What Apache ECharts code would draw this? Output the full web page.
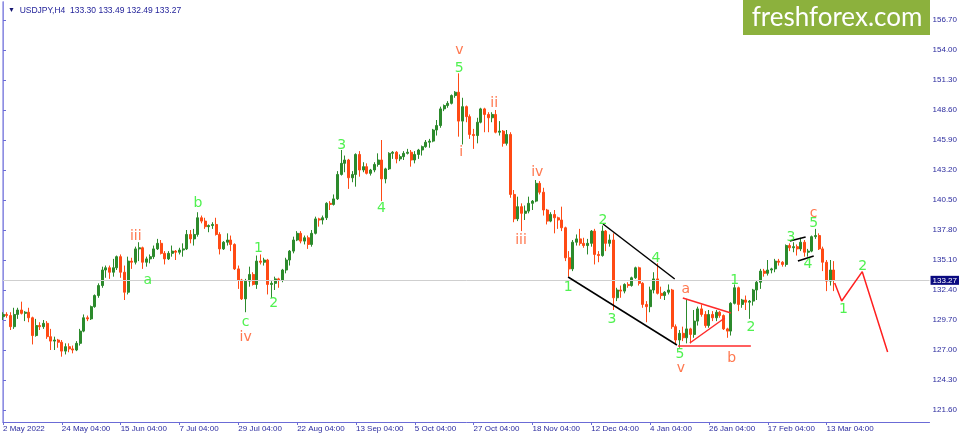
<!DOCTYPE html>
<html><head><meta charset="utf-8">
<script src="https://cdn.jsdelivr.net/npm/echarts@6/dist/echarts.min.js"></script>
<style>html,body{margin:0;padding:0;background:#fff}#c{width:960px;height:434px}</style>
</head><body><div id="c"></div>
<script>
// ---- data ----
const symbolName = 'USDJPY,H4';
const lastBar = [133.30, 133.49, 132.49, 133.27];
const tickLabels = ['2 May 2022','24 May 04:00','15 Jun 04:00','7 Jul 04:00','29 Jul 04:00','22 Aug 04:00','13 Sep 04:00','5 Oct 04:00','27 Oct 04:00','18 Nov 04:00','12 Dec 04:00','4 Jan 04:00','26 Jan 04:00','17 Feb 04:00','13 Mar 04:00'];
const tickEvery = 16;
const slotCount = 253;
const priceTicks = [121.6,124.3,127.0,129.7,132.4,135.1,137.8,140.5,143.2,145.9,148.6,151.3,154.0,156.7];
const priceMin = 120.52, priceMax = 158.32;

const opens = [
130.0,130.2,130.1,129.1,130.2,130.6,130.3,130.4,129.9,128.3,
129.2,129.1,129.4,128.2,127.8,127.9,127.7,126.9,127.3,127.1,
127.0,127.6,128.7,129.9,129.8,130.9,131.9,132.8,134.2,134.4,
134.0,134.4,135.4,134.0,132.2,135.0,134.9,136.1,136.2,134.9,
135.2,135.4,136.1,136.6,135.7,135.2,135.7,135.9,135.8,136.0,
136.1,137.4,137.0,137.4,138.9,138.6,138.1,138.2,138.3,137.4,
136.1,136.7,136.9,136.5,134.3,133.3,131.6,133.2,133.8,132.9,
135.0,134.9,135.1,132.9,133.0,133.4,133.3,134.2,135.1,135.9,
136.9,137.5,136.8,137.1,136.5,137.5,138.8,138.7,138.9,140.2,
140.1,140.6,142.8,143.8,144.1,142.5,142.8,144.6,143.2,143.5,
142.9,143.2,143.7,144.1,142.4,143.3,144.7,144.8,144.2,144.4,
144.7,144.8,144.1,144.6,145.0,145.3,145.7,145.8,146.8,147.2,
148.7,149.0,149.2,149.9,150.2,147.6,148.9,148.0,146.4,146.3,
147.5,148.7,148.2,147.9,148.2,146.6,146.7,145.6,146.4,141.0,
138.8,139.9,139.3,139.5,140.2,140.4,142.0,141.2,139.6,138.6,
139.2,138.9,138.7,138.0,135.3,134.3,136.7,137.0,136.6,136.4,
136.6,137.7,135.6,135.5,137.7,136.6,136.9,131.7,132.4,132.3,
132.9,132.8,133.5,134.4,133.0,131.1,130.9,132.4,133.4,132.1,
131.9,132.2,132.4,129.1,127.9,128.5,128.1,128.9,128.4,129.6,
130.7,130.2,129.2,130.2,129.9,130.4,130.1,128.9,128.7,131.2,
132.6,131.1,131.5,131.3,131.4,132.4,133.1,134.1,133.9,134.2,
134.3,135.0,134.9,134.7,136.4,136.2,136.3,136.1,136.7,135.8,
135.9,137.2,137.3,136.1,134.9,133.2,134.2];
const closes = [
130.2,130.1,129.1,130.2,130.6,130.3,130.4,129.9,128.3,129.2,
129.1,129.4,128.2,127.8,127.9,127.7,126.9,127.3,127.1,127.0,
127.6,128.7,129.9,129.8,130.9,131.9,132.8,134.2,134.4,134.0,
134.4,135.4,134.0,132.2,135.0,134.9,136.1,136.2,134.9,135.2,
135.4,136.1,136.6,135.7,135.2,135.7,135.9,135.8,136.0,136.1,
137.4,137.0,137.4,138.9,138.6,138.1,138.2,138.3,137.4,136.1,
136.7,136.9,136.5,134.3,133.3,131.6,133.2,133.8,132.9,135.0,
134.9,135.1,132.9,133.0,133.4,133.3,134.2,135.1,135.9,136.9,
137.5,136.8,137.1,136.5,137.5,138.8,138.7,138.9,140.2,140.1,
140.6,142.8,143.8,144.1,142.5,142.8,144.6,143.2,143.5,142.9,
143.2,143.7,144.1,142.4,143.3,144.7,144.8,144.2,144.4,144.7,
144.8,144.1,144.6,145.0,145.3,145.7,145.8,146.8,147.2,148.7,
149.0,149.2,149.9,150.2,147.6,148.9,148.0,146.4,146.3,147.5,
148.7,148.2,147.9,148.2,146.6,146.7,145.6,146.4,141.0,138.8,
139.9,139.3,139.5,140.2,140.4,142.0,141.2,139.6,138.6,139.2,
138.9,138.7,138.0,135.3,134.3,136.7,137.0,136.6,136.4,136.6,
137.7,135.6,135.5,137.7,136.6,136.9,131.7,132.4,132.3,132.9,
132.8,133.5,134.4,133.0,131.1,130.9,132.4,133.4,132.1,131.9,
132.2,132.4,129.1,127.9,128.5,128.1,128.9,128.4,129.6,130.7,
130.2,129.2,130.2,129.9,130.4,130.1,128.9,128.7,131.2,132.6,
131.1,131.5,131.3,131.4,132.4,133.1,134.1,133.9,134.2,134.3,
135.0,134.9,134.7,136.4,136.2,136.3,136.1,136.7,135.8,135.9,
137.2,137.3,136.1,134.9,133.2,134.2,133.27];
const highs = [
130.4,130.4,130.4,130.8,130.8,131.35,130.5,130.8,130.0,129.8,
129.5,129.7,129.6,128.9,128.2,128.0,127.9,127.6,127.6,127.4,
127.8,128.9,130.2,130.1,131.0,132.0,133.0,134.5,134.6,134.6,
135.2,135.5,135.6,134.6,135.4,135.3,136.3,136.7,136.3,135.4,
135.6,136.4,137.0,136.9,135.9,135.9,136.4,136.0,136.2,136.6,
137.8,137.8,137.9,139.4,139.1,138.9,138.3,138.5,138.9,137.6,
136.8,137.5,137.3,136.6,134.6,133.4,133.4,134.5,134.0,135.5,
135.6,135.3,135.2,133.2,133.6,133.5,134.3,135.3,136.0,137.2,
137.7,137.7,137.3,137.3,137.8,139.0,138.9,139.1,140.3,140.4,
141.0,143.1,145.0,144.5,144.2,143.1,144.7,144.9,143.9,143.8,
143.3,143.9,144.7,145.9,143.4,144.8,144.9,144.9,144.6,144.9,
145.1,145.0,144.9,145.1,145.4,145.9,146.0,146.9,147.7,148.9,
149.1,149.4,150.0,150.3,151.9,149.7,149.0,148.2,146.9,147.9,
148.8,148.8,148.4,148.4,148.6,147.6,146.8,146.8,146.6,141.4,
140.8,140.2,140.0,140.8,140.5,142.3,142.2,141.6,139.7,139.4,
139.6,139.0,139.9,138.1,135.9,136.9,137.4,137.9,137.1,137.0,
137.8,137.9,135.9,138.2,137.8,137.4,137.5,132.6,132.8,133.0,
133.1,133.6,134.5,134.5,133.1,131.4,132.7,134.0,134.8,132.7,
132.3,132.9,132.5,129.3,128.8,129.1,131.6,129.0,130.6,130.9,
131.1,130.5,130.6,130.5,130.6,130.5,130.2,129.0,131.3,132.9,
132.7,131.6,131.9,131.5,132.5,133.3,134.3,134.3,135.1,134.4,
135.2,135.2,135.0,136.5,136.6,136.7,136.5,137.1,136.9,136.1,
137.3,137.9,137.5,136.3,135.1,135.1,135.0];
const lows = [
129.7,129.9,128.8,128.9,129.8,130.2,129.6,129.5,127.5,128.2,
128.8,128.9,128.0,127.0,127.0,127.2,126.4,126.6,126.8,126.7,
126.9,127.4,128.6,129.6,129.7,130.8,131.7,132.6,133.5,133.4,
133.6,134.2,133.5,131.5,132.0,134.3,134.7,135.0,134.3,134.5,
134.8,135.2,136.0,135.6,134.7,135.1,135.4,135.1,135.6,135.4,
136.0,136.6,136.4,137.2,138.4,137.9,137.6,137.9,137.3,135.6,
136.0,136.4,135.9,134.2,132.5,131.5,130.4,132.7,132.8,132.5,
134.7,134.6,132.0,131.7,132.4,132.6,133.1,133.9,134.6,135.7,
136.8,136.6,136.5,136.1,136.3,137.4,138.1,138.3,138.7,139.6,
140.0,140.5,142.7,143.0,141.5,142.1,141.7,142.6,143.0,142.8,
142.7,143.0,143.5,140.4,142.0,143.2,144.2,143.8,144.0,144.1,
144.6,143.5,143.8,144.2,144.5,145.2,145.2,145.7,146.3,147.0,
148.5,148.8,149.1,149.7,146.2,145.5,147.5,146.0,145.1,145.6,
147.4,146.6,146.6,147.5,146.5,146.3,145.3,145.4,140.7,138.5,
138.6,137.7,138.7,139.3,139.6,140.3,141.0,139.1,138.3,138.5,
137.5,137.9,137.7,135.0,133.6,134.1,136.4,136.4,136.2,135.6,
136.3,134.7,134.9,135.4,135.9,136.3,130.6,131.4,131.7,132.1,
132.6,132.7,133.4,132.8,130.8,129.5,130.4,132.1,132.0,131.6,
131.5,132.0,128.9,127.5,127.2,127.8,127.6,127.6,128.1,129.2,
130.0,129.0,129.0,129.6,129.6,129.9,128.8,128.1,128.3,131.1,
130.5,130.8,130.6,129.8,131.0,131.5,132.5,133.6,133.7,133.9,
134.0,134.6,134.5,134.5,135.9,135.8,135.5,135.9,135.4,135.4,
135.8,137.0,136.0,134.1,132.3,132.8,132.3];

// wave labels: [bar index, price, text, kind]  kind g = green, r = orange-red
const waveLabels = [
[36.1,137.26,'iii','r'],[39.4,133.30,'a','g'],[53.0,140.23,'b','g'],
[69.5,136.18,'1','g'],[73.6,131.23,'2','g'],[66.0,129.52,'c','g'],[66.0,128.17,'iv','r'],
[92.1,145.45,'3','g'],[102.9,139.78,'4','g'],
[124.1,154.00,'v','r'],[124.1,152.38,'5','g'],[124.6,144.82,'i','r'],
[133.6,149.23,'ii','r'],[140.9,136.90,'iii','r'],[145.3,143.02,'iv','r'],
[153.7,132.67,'1','g'],[163.2,138.70,'2','g'],[165.6,129.79,'3','g'],[177.6,135.28,'4','g'],
[184.1,126.64,'5','g'],[184.4,125.38,'v','r'],[185.7,132.49,'a','r'],[198.2,126.28,'b','r'],
[199.0,133.30,'1','g'],[203.4,129.07,'2','g'],[214.3,137.17,'3','g'],[218.9,134.74,'4','g'],
[220.5,138.43,'5','g'],[220.5,139.33,'c','r'],[228.6,130.69,'1','g'],[233.8,134.56,'2','g']
];
const channelLower = [[153.7,133.57],[183.3,127.45]];
const channelUpper = [[163.2,138.34],[182.7,133.39]];
const triUpper = [[184.9,131.68],[198.0,130.33]];
const triLower = [[186.8,127.63],[196.3,129.88]];
const triBase = [[183.6,127.36],[203.4,127.36]];
const flagUpper = [[214.0,136.81],[218.3,137.17]];
const flagLower = [[216.2,135.01],[220.5,135.46]];
const projection = [[226.2,133.03],[228.1,131.41],[233.7,134.05],[240.6,126.82]];

// ---- chart ----
const chart = echarts.init(document.getElementById('c'), null, {renderer:'canvas'});
const cats = []; for (let i = 0; i < slotCount; i++) cats.push(String(i));
const candles = opens.map((o, i) => [o, closes[i], lows[i], highs[i]]);
const axisBlue = '#6b6bd6', textBlue = '#2b2b9e';
const isTick = i => i % tickEvery === 0 && i / tickEvery < tickLabels.length;
const lastPrice = closes[closes.length - 1];

function seg(data, color, w) {
  return {type:'line', xAxisIndex:1, yAxisIndex:0, data:data, symbol:'none', silent:true,
    lineStyle:{color:color, width:w}, z:5, animation:false};
}

chart.setOption({
  animation:false,
  backgroundColor:'#ffffff',
  title:{
    text:'{a|▼}  ' + symbolName + '  ' + lastBar.map(v => v.toFixed(2)).join(' '),
    left:3, top:1,
    textStyle:{fontSize:8.5, color:'#23239a', fontWeight:'normal', fontFamily:'Liberation Sans',
      rich:{a:{fontSize:7, color:'#141470'}}}
  },
  grid:{left:2, right:30, top:2, bottom:12},
  xAxis:[{
    type:'category', data:cats, boundaryGap:false,
    axisLine:{lineStyle:{color:axisBlue, width:1}},
    axisTick:{show:true, interval:(i)=>isTick(i), length:3, inside:false, lineStyle:{color:axisBlue}},
    axisLabel:{interval:(i)=>isTick(i), formatter:(v,i)=>tickLabels[i/tickEvery], align:'left',
      margin:3, fontSize:8, color:textBlue, fontFamily:'Liberation Sans'},
    splitLine:{show:false}
  },{
    type:'value', min:0, max:slotCount-1, show:false
  }],
  yAxis:[{
    type:'value', position:'right', min:priceMin, max:priceMax, scale:true,
    axisLine:{show:true, lineStyle:{color:axisBlue, width:1}},
    axisTick:{show:true, length:3, customValues:priceTicks, lineStyle:{color:axisBlue}},
    axisLabel:{customValues:priceTicks, formatter:v=>v.toFixed(2), margin:3, fontSize:8,
      color:textBlue, fontFamily:'Liberation Sans'},
    splitLine:{show:false}
  },{
    type:'value', position:'left', min:priceMin, max:priceMax,
    axisLine:{show:true, lineStyle:{color:'#9a9ae6', width:1.5}},
    axisTick:{show:false}, axisLabel:{show:false}, splitLine:{show:false}
  }],
  graphic:[
    {type:'rect', shape:{x:743, y:0, width:187, height:35}, style:{fill:'#8cb13d'}, z:10},
    {type:'text', x:837, y:18, style:{text:'freshforex.com', fill:'#ffffff', font:'26px Lato',
      textAlign:'center', textVerticalAlign:'middle'}, z:11}
  ],
  series:[
    {type:'candlestick', xAxisIndex:0, yAxisIndex:0, data:candles, barWidth:2.5,
      itemStyle:{color:'#2c8a2c', color0:'#ff4a14', borderColor:'#2c8a2c', borderColor0:'#ff4a14', borderWidth:1},
      markLine:{silent:true, symbol:'none', animation:false,
        lineStyle:{color:'#cfcfcf', width:1, type:'solid'},
        label:{show:true, position:'end', formatter:lastPrice.toFixed(2), backgroundColor:'#0a0a80',
          color:'#ffffff', fontSize:8, fontFamily:'Liberation Sans', padding:[1,2,0,2], distance:1},
        data:[{yAxis:lastPrice}]},
      z:3},
    seg(channelLower,'#000000',1.5), seg(channelUpper,'#000000',1.5),
    seg(flagUpper,'#000000',1.5), seg(flagLower,'#000000',1.5),
    seg(triUpper,'#ff2a2a',1.5), seg(triLower,'#ff2a2a',1.5), seg(triBase,'#ff2a2a',1.5),
    seg(projection,'#ff2020',1.5),
    {type:'scatter', xAxisIndex:1, yAxisIndex:0, symbolSize:1, silent:true, z:6,
      itemStyle:{color:'rgba(0,0,0,0)'},
      data:waveLabels.map(l => ({value:[l[0], l[1]], label:{formatter:l[2], color:l[3]==='g' ? '#24ee24' : '#ff5522'}})),
      label:{show:true, position:'inside', fontSize:14, fontFamily:'DejaVu Sans'}}
  ]
});
</script></body></html>
